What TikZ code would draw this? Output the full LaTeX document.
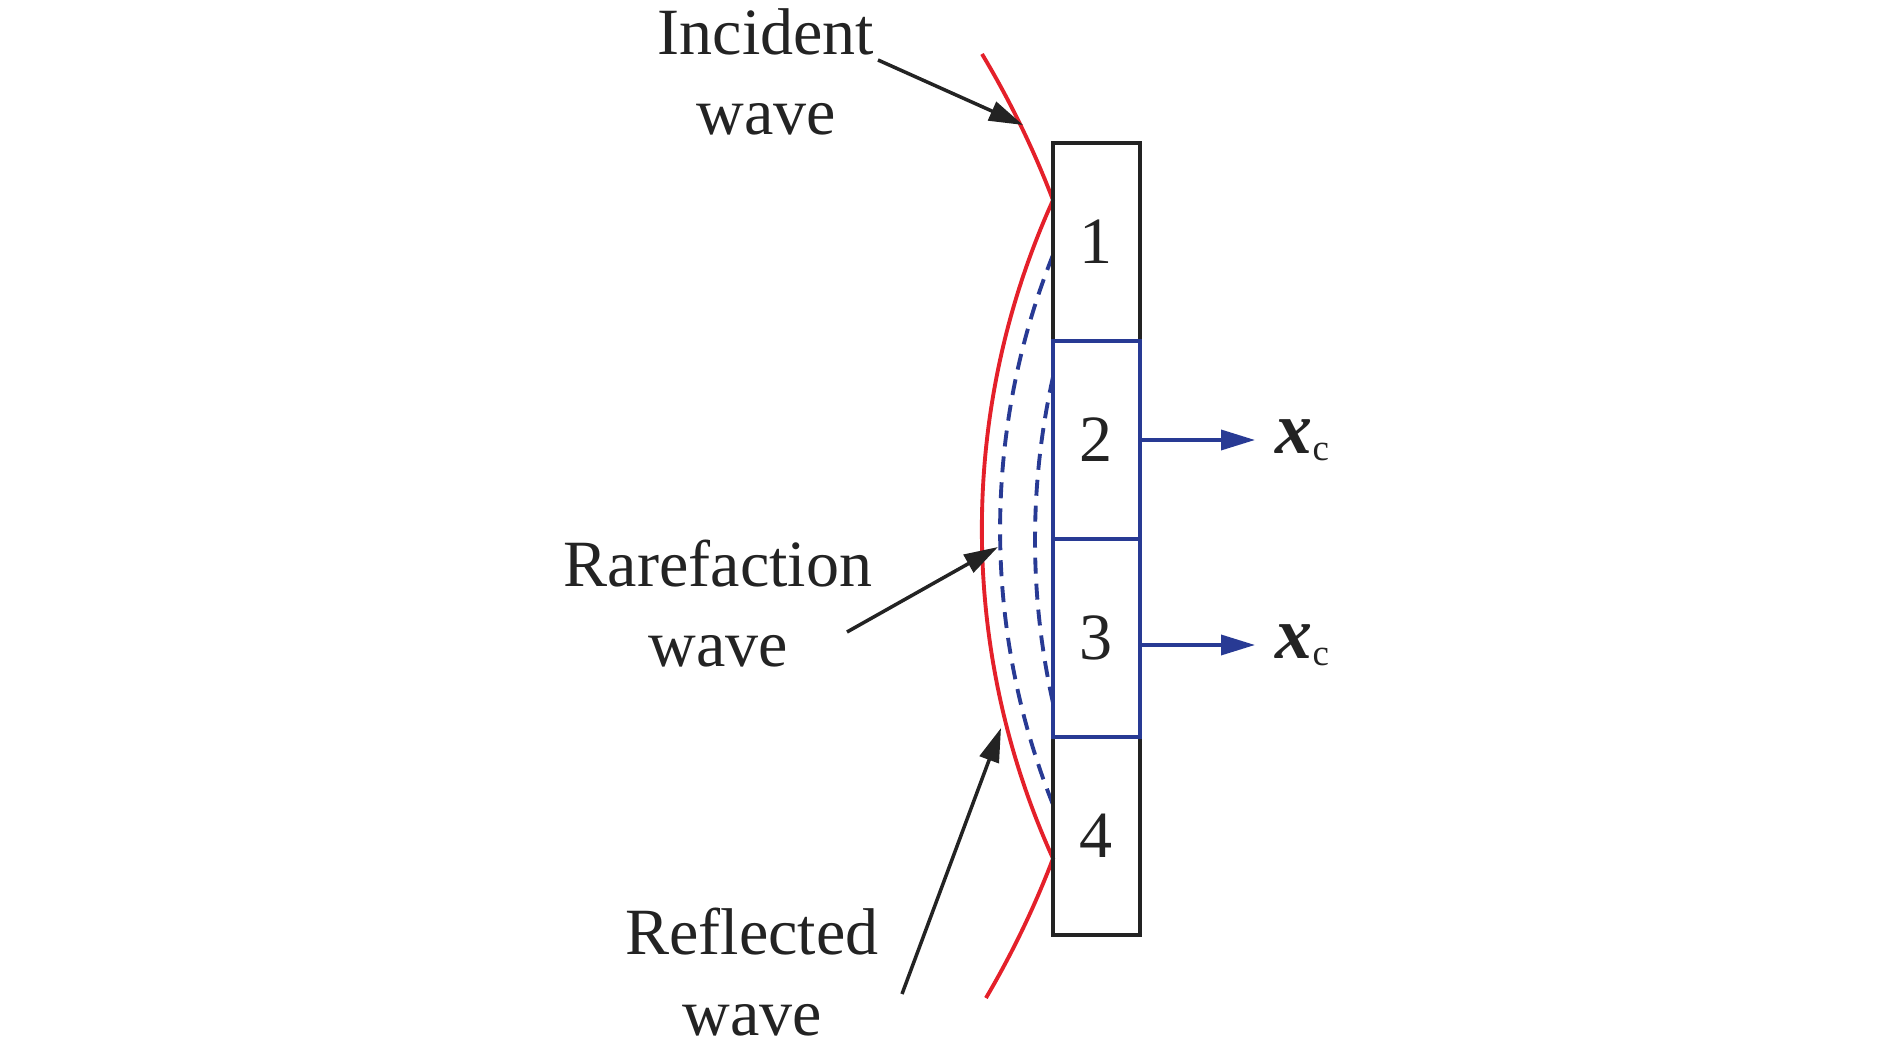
\documentclass[tikz,border=0pt]{standalone}
\usepackage{fontspec}
\setmainfont{Liberation Serif}
\usepackage{tikz}
\usetikzlibrary{arrows.meta}
\usepackage{xcolor}

\definecolor{wavered}{RGB}{228,32,42}
\definecolor{cellblue}{RGB}{40,58,148}
\definecolor{inkgray}{RGB}{35,35,35}

\newcommand{\bigtext}{\fontsize{18.8}{22.8}\selectfont}
\newcommand{\xcsym}{{\fontsize{21}{24}\selectfont\bfseries\itshape x}\raisebox{-2pt}{\fontsize{10.5}{11}\selectfont c}}

\begin{document}
\begin{tikzpicture}[
  lbl/.style={font=\bigtext, text=inkgray, align=center, inner sep=0pt},
  cell/.style={draw=inkgray, line width=1.25pt, minimum width=0.87cm,
    minimum height=1.98cm, inner sep=0pt, font=\bigtext, text=inkgray},
  bluecell/.style={cell, draw=cellblue, line width=1pt},
  pointer/.style={draw=inkgray, line width=1pt, -{Triangle[length=0.34cm,width=0.2cm]}},
  flow/.style={draw=cellblue, line width=1pt, -{Triangle[length=0.34cm,width=0.2cm]}},
  wave/.style={draw=wavered, line width=1.1pt},
  rarefy/.style={draw=cellblue, line width=1.1pt, dash pattern=on 0.16cm off 0.1cm}
]
  \useasboundingbox (0,0) rectangle (18.90,-10.57);

  % incident + reflected wave, kinked at the plate
  \draw[wave] (9.82,-0.54) arc[start angle=30.98, end angle=20.88, radius=9.228]
    arc[start angle=155.6, end angle=204.4, radius=7.97]
    arc[start angle=-20.88, end angle=-30.5, radius=9.228];
  % rarefaction fronts
  \draw[rarefy] (10.53,-2.55) arc[start angle=158.2, end angle=201.8, radius=7.40];
  \draw[rarefy] (10.53,-3.77) arc[start angle=167.4, end angle=192.6, radius=7.47];

  % plate cells
  \node[cell] (c1) at (10.965,-2.42) {1};
  \node[cell] (c4) at (10.965,-8.36) {4};
  \node[bluecell] (c2) at (10.965,-4.40) {2};
  \node[bluecell] (c3) at (10.965,-6.38) {3};

  \node[lbl, anchor=west] (xc2) at (12.75,-4.40) {\xcsym};
  \node[lbl, anchor=west] (xc3) at (12.75,-6.45) {\xcsym};
  \draw[flow, shorten >=0.2cm] (xc2.west -| c2.east) -- (xc2.west);
  \draw[flow, shorten >=0.2cm] (xc3.west -| c3.east) -- (xc3.west);

  % labels and pointers
  \node[lbl, anchor=base] (incLbl) at (7.66,-1.35) {Incident\\wave};
  \node[lbl, anchor=base] (rareLbl) at (7.18,-6.67) {Rarefaction\\wave};
  \node[lbl, anchor=base] (reflLbl) at (7.52,-10.35) {Reflected\\wave};

  \coordinate (incTail) at (8.78,-0.60);
  \coordinate (incHit) at (10.23,-1.25);
  \coordinate (rareTail) at (8.47,-6.32);
  \coordinate (rareHit) at (9.98,-5.47);
  \coordinate (reflTail) at (9.02,-9.94);
  \coordinate (reflHit) at (10.01,-7.28);
  \draw[pointer] (incTail) -- (incHit);
  \draw[pointer] (rareTail) -- (rareHit);
  \draw[pointer] (reflTail) -- (reflHit);
\end{tikzpicture}
\end{document}
